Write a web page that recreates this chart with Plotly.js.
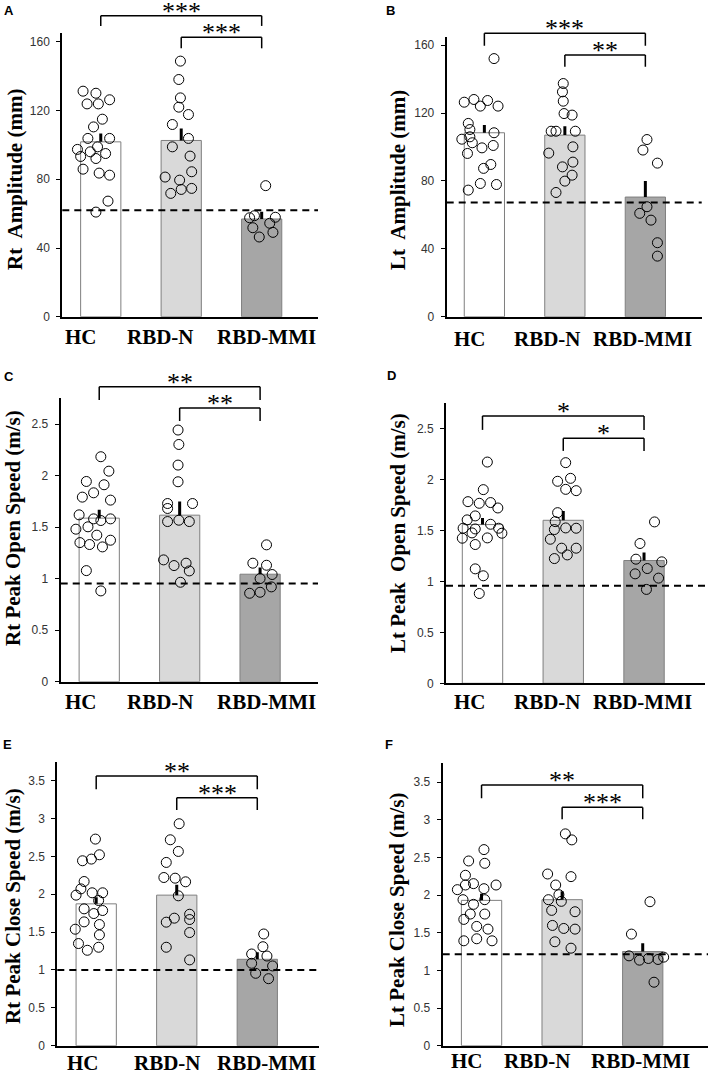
<!DOCTYPE html>
<html><head><meta charset="utf-8">
<script src="https://cdn.plot.ly/plotly-3.0.1.min.js"></script>
<style>html,body{margin:0;padding:0;background:#fff}</style>
</head><body><div id="chart" style="width:709px;height:1076px"></div>
<script>
const groups = ['HC', 'RBD-N', 'RBD-MMI'];

// Panel A: Rt Amplitude (mm)
const A_HC = [131.3,130.1,123.9,123.9,126.3,115.0,110.5,103.8,103.8,98.9,97.4,96.0,93.3,92.1,95.0,85.9,83.6,82.4,67.3,60.9];
const A_HC_j = [-0.22,-0.06,-0.17,-0.03,0.11,0.02,-0.09,-0.16,0.11,-0.04,-0.29,-0.13,-0.25,-0.06,0.06,-0.22,-0.02,0.11,0.09,-0.06];
const A_N = [148.8,138.1,127.4,122.0,117.7,111.9,103.8,98.9,93.5,81.3,79.5,84.4,71.8,74.1,74.7];
const A_N_j = [-0.01,-0.03,-0.01,-0.03,0.09,-0.11,0.09,-0.11,0.11,-0.2,-0.02,0.13,-0.13,0.0,0.13];
const A_M = [76.3,57.6,58.8,57.9,51.8,54.4,49.1,46.4];
const A_M_j = [0.05,-0.15,-0.09,0.17,-0.11,0.1,0.14,-0.03];
const A_mean = [101.8,102.6,56.9];
const A_sem = [4.9,7.0,4.2];
const A_cut = 62;
const A_stars = ['***','***'];

// Panel B: Lt Amplitude (mm)
const B_HC = [152.1,126.4,128.0,127.4,124.1,124.1,113.9,110.3,104.6,106.0,102.5,108.4,100.9,99.5,96.2,89.7,87.4,78.5,77.9,74.6];
const B_HC_j = [0.12,-0.25,-0.13,0.04,-0.05,0.17,-0.2,-0.18,-0.28,-0.18,-0.15,0.12,0.11,-0.03,-0.21,0.08,-0.01,-0.05,0.15,-0.2];
const B_N = [137.4,132.5,127.0,119.7,118.8,109.3,109.3,109.3,100.1,96.4,91.1,88.3,83.4,79.9,73.2];
const B_N_j = [-0.02,-0.03,-0.02,-0.01,0.09,-0.17,-0.11,0.13,0.1,-0.2,0.1,-0.03,0.09,0.0,-0.11];
const B_M = [104.4,98.2,90.5,60.9,64.8,56.9,43.6,35.7];
const B_M_j = [0.02,-0.03,0.15,-0.07,0.02,0.07,0.15,0.15];
const B_mean = [108.4,107.0,70.5];
const B_sem = [4.5,5.3,9.4];
const B_cut = 67.3;
const B_stars = ['***','**'];

// Panel C: Rt Peak Open Speed (m/s)
const C_HC = [2.183,2.043,1.943,1.911,1.833,1.791,1.762,1.619,1.580,1.564,1.580,1.503,1.480,1.422,1.350,1.331,1.373,1.308,1.078,0.881];
const C_HC_j = [0.02,0.12,-0.16,0.06,-0.07,-0.21,0.14,-0.25,-0.07,0.02,0.14,-0.14,-0.29,-0.03,-0.24,-0.12,0.14,0.04,-0.16,0.02];
const C_N = [2.442,2.302,2.102,1.940,1.729,1.681,1.729,1.554,1.567,1.554,1.182,1.127,1.150,1.075,0.965];
const C_N_j = [-0.02,-0.01,-0.02,-0.02,-0.15,-0.15,0.16,-0.15,-0.01,0.12,-0.2,-0.07,0.08,0.12,0.01];
const C_M = [1.328,1.150,1.130,1.040,1.001,0.920,0.858,0.868];
const C_M_j = [0.08,-0.09,0.08,0.15,0.0,0.14,-0.13,0.0];
const C_mean = [1.587,1.616,1.043];
const C_sem = [0.081,0.133,0.064];
const C_cut = 0.952;
const C_stars = ['**','**'];

// Panel D: Lt Peak Open Speed (m/s)
const D_HC = [2.173,1.902,1.784,1.768,1.775,1.722,1.644,1.605,1.562,1.516,1.523,1.523,1.477,1.474,1.425,1.428,1.363,1.124,1.056,0.882];
const D_HC_j = [0.06,0.01,-0.18,-0.04,0.1,0.19,-0.09,-0.19,0.1,-0.09,-0.24,0.2,-0.13,0.24,-0.25,0.06,-0.09,-0.09,0.01,-0.04];
const D_N = [2.167,1.984,2.013,1.905,1.892,1.676,1.588,1.510,1.526,1.523,1.415,1.327,1.327,1.261,1.225];
const D_N_j = [0.03,-0.07,0.09,0.03,0.16,-0.07,-0.1,-0.11,0.03,0.16,-0.16,-0.02,0.16,0.05,-0.11];
const D_M = [1.585,1.373,1.219,1.127,1.193,1.075,1.033,0.922];
const D_M_j = [0.13,-0.05,-0.1,0.04,0.22,-0.11,0.18,0.03];
const D_mean = [1.559,1.601,1.206];
const D_sem = [0.065,0.092,0.078];
const D_cut = 0.958;
const D_stars = ['*','*'];

// Panel E: Rt Peak Close Speed (m/s)
const E_HC = [2.728,2.442,2.464,2.521,2.168,2.071,1.988,2.019,2.019,1.917,1.807,1.745,1.785,1.635,1.600,1.538,1.463,1.349,1.300,1.260];
const E_HC_j = [-0.01,-0.17,-0.06,0.04,-0.15,-0.19,-0.25,-0.05,0.08,0.03,-0.15,-0.03,0.08,-0.15,0.04,-0.26,0.04,-0.22,0.03,-0.11];
const E_N = [2.931,2.719,2.565,2.420,2.221,2.212,2.164,1.979,1.736,1.666,1.684,1.631,1.494,1.300,1.133];
const E_N_j = [0.03,-0.08,0.02,-0.13,-0.16,-0.02,0.11,0.02,0.16,0.16,-0.03,-0.13,0.16,-0.13,0.16];
const E_M = [1.475,1.307,1.211,1.184,1.088,1.053,0.956,0.885];
const E_M_j = [0.08,0.07,-0.07,0.12,-0.07,0.19,-0.02,0.14];
const E_mean = [1.873,1.988,1.141];
const E_sem = [0.088,0.136,0.093];
const E_cut = 1.0;
const E_stars = ['**','***'];

// Panel F: Lt Peak Close Speed (m/s)
const F_HC = [2.604,2.453,2.422,2.263,2.134,2.152,2.134,2.072,2.085,1.939,1.939,1.877,1.748,1.748,1.677,1.584,1.548,1.393,1.420,1.393];
const F_HC_j = [0.03,-0.16,0.04,-0.2,-0.2,-0.1,0.18,-0.3,0.03,-0.23,0.04,-0.1,-0.14,0.04,-0.22,-0.06,0.08,-0.22,-0.06,0.13];
const F_N = [2.813,2.733,2.280,2.134,2.245,1.939,1.917,2.005,1.797,1.779,1.597,1.557,1.548,1.380,1.295];
const F_N_j = [0.04,0.12,-0.18,-0.08,0.11,-0.17,-0.01,-0.04,-0.13,0.16,-0.12,0.02,0.16,-0.09,0.11];
const F_M = [1.912,1.482,1.193,1.158,1.176,1.136,1.145,0.843];
const F_M_j = [0.09,-0.14,-0.17,0.07,0.26,-0.04,0.19,0.14];
const F_mean = [1.930,1.939,1.251];
const F_sem = [0.089,0.111,0.111];
const F_cut = 1.216;
const F_stars = ['**','***'];

const W = 709, H = 1076;
// layout geometry per panel (pixels): axis box, ranges, title/letter/label positions, bracket heights (fraction of axis height)
const panels = [
  {letter:'A', title:'Rt\u00a0 Amplitude (mm)', pts:[[A_HC,A_HC_j],[A_N,A_N_j],[A_M,A_M_j]], mean:A_mean, sem:A_sem, cut:A_cut, stars:A_stars,
   dx:[62.3,318], dy:[33.3,316.7], xr:[-0.478,2.70], yr:[0,165], dtick:40, tx:15, ty:180, lx:9, ly:11, br:[[1.062,1.026],[0.986,0.947]],
   labX:[81,160,266], labY:337},
  {letter:'B', title:'Lt\u00a0 Amplitude (mm)', pts:[[B_HC,B_HC_j],[B_N,B_N_j],[B_M,B_M_j]], mean:B_mean, sem:B_sem, cut:B_cut, stars:B_stars,
   dx:[446.7,701.7], dy:[36.7,316.7], xr:[-0.468,2.70], yr:[0,165], dtick:40, tx:398, ty:180, lx:390, ly:11, br:[[1.012,0.968],[0.935,0.893]],
   labX:[470,547,642], labY:339},
  {letter:'C', title:'Rt Peak Open Speed (m/s)', pts:[[C_HC,C_HC_j],[C_N,C_N_j],[C_M,C_M_j]], mean:C_mean, sem:C_sem, cut:C_cut, stars:C_stars,
   dx:[60.7,318], dy:[398.3,681.7], xr:[-0.479,2.72], yr:[0,2.75], dtick:0.5, tx:13, ty:528, lx:9, ly:376, br:[[1.041,0.994],[0.966,0.92]],
   labX:[81,160,266], labY:702},
  {letter:'D', title:'Lt Peak\u00a0 Open Speed (m/s)', pts:[[D_HC,D_HC_j],[D_N,D_N_j],[D_M,D_M_j]], mean:D_mean, sem:D_sem, cut:D_cut, stars:D_stars,
   dx:[446,705], dy:[403.3,683.3], xr:[-0.452,2.755], yr:[0,2.75], dtick:0.5, tx:398, ty:533, lx:391, ly:375, br:[[0.955,0.905],[0.875,0.83]],
   labX:[470,547,642], labY:702},
  {letter:'E', title:'Rt Peak Close Speed (m/s)', pts:[[E_HC,E_HC_j],[E_N,E_N_j],[E_M,E_M_j]], mean:E_mean, sem:E_sem, cut:E_cut, stars:E_stars,
   dx:[57.3,319.3], dy:[761.7,1045.7], xr:[-0.483,2.77], yr:[0,3.75], dtick:0.5, tx:13, ty:906, lx:7, ly:744, br:[[0.95,0.903],[0.873,0.83]],
   labX:[83,167,266], labY:1063},
  {letter:'F', title:'Lt Peak Close Speed (m/s)', pts:[[F_HC,F_HC_j],[F_N,F_N_j],[F_M,F_M_j]], mean:F_mean, sem:F_sem, cut:F_cut, stars:F_stars,
   dx:[442.7,708], dy:[763.3,1045.7], xr:[-0.482,2.81], yr:[0,3.75], dtick:0.5, tx:397, ty:910, lx:389, ly:744, br:[[0.923,0.876],[0.844,0.802]],
   labX:[467,537,640], labY:1061}
];

const barFill = ['#ffffff', '#d9d9d9', '#a6a6a6'];
const traces = [];
const layout = {
  width: W, height: H, margin: {l:0, r:0, t:0, b:0},
  paper_bgcolor: '#fff', plot_bgcolor: 'rgba(0,0,0,0)', showlegend: false,
  shapes: [], annotations: []
};
const serif = 'Liberation Serif, Times New Roman, serif';
const sans = 'Liberation Sans, Arial, sans-serif';

panels.forEach((p, i) => {
  const n = i + 1;
  const xid = n === 1 ? 'x' : 'x' + n;
  const yid = n === 1 ? 'y' : 'y' + n;
  const xk = n === 1 ? 'xaxis' : 'xaxis' + n;
  const yk = n === 1 ? 'yaxis' : 'yaxis' + n;
  const idx = groups.map((g, k) => k);
  traces.push({
    type: 'bar', x: idx, y: p.mean, width: 0.5, xaxis: xid, yaxis: yid,
    marker: {color: barFill, line: {color: '#7f7f7f', width: 1}},
    error_y: {type: 'data', symmetric: false, array: p.sem, arrayminus: [0,0,0], color: '#000', thickness: 3, width: 0},
    hoverinfo: 'skip'
  });
  p.pts.forEach((pair, k) => {
    traces.push({
      type: 'scatter', mode: 'markers', xaxis: xid, yaxis: yid,
      x: pair[1].map(j => k + j), y: pair[0], cliponaxis: false,
      marker: {symbol: 'circle', size: 10, color: 'rgba(0,0,0,0)', line: {color: '#000', width: 1}},
      hoverinfo: 'skip'
    });
  });
  layout[xk] = {
    domain: [p.dx[0]/W, p.dx[1]/W], range: p.xr, anchor: yid, automargin: false,
    showline: true, linecolor: '#000', linewidth: 2, ticks: '', showgrid: false, zeroline: false,
    showticklabels: false, fixedrange: true
  };
  layout[yk] = {
    domain: [1 - p.dy[1]/H, 1 - p.dy[0]/H], range: p.yr, anchor: xid, automargin: false,
    showline: true, linecolor: '#000', linewidth: 2, ticks: 'outside', ticklen: 4, tickwidth: 1, tickcolor: '#000',
    dtick: p.dtick, tick0: 0, showgrid: false, zeroline: false, ticklabelstandoff: 4,
    tickfont: {family: sans, size: 12, color: '#333'}, fixedrange: true
  };
  // group labels under the axis
  groups.forEach((g, k) => {
    layout.annotations.push({xref: 'paper', yref: 'paper', x: p.labX[k] / W, y: 1 - p.labY / H,
      xanchor: 'center', yanchor: 'middle', showarrow: false, text: '<b>' + g + '</b>',
      font: {family: serif, size: 21, color: '#000'}});
  });
  // dashed reference line
  layout.shapes.push({type: 'line', xref: xid + ' domain', yref: yid, x0: 0, x1: 1, y0: p.cut, y1: p.cut,
    line: {color: '#000', width: 2, dash: '7px,5px'}});
  // significance brackets
  const pairs = [[0, 2], [1, 2]];
  pairs.forEach((pr, b) => {
    const top = p.br[b][0], bot = p.br[b][1];
    const lw = {color: '#000', width: 1.5};
    layout.shapes.push({type: 'line', xref: xid, yref: yid + ' domain', x0: pr[0], x1: pr[1], y0: top, y1: top, line: lw});
    layout.shapes.push({type: 'line', xref: xid, yref: yid + ' domain', x0: pr[0], x1: pr[0], y0: top, y1: bot, line: lw});
    layout.shapes.push({type: 'line', xref: xid, yref: yid + ' domain', x0: pr[1], x1: pr[1], y0: top, y1: bot, line: lw});
    layout.annotations.push({xref: xid, yref: yid + ' domain', x: (pr[0] + pr[1]) / 2, y: top,
      yanchor: 'bottom', xanchor: 'center', yshift: -12, showarrow: false, text: p.stars[b],
      font: {family: serif, size: 26, color: '#000'}});
  });
  // y-axis title
  layout.annotations.push({xref: 'paper', yref: 'paper', x: p.tx / W, y: 1 - p.ty / H, xanchor: 'center', yanchor: 'middle',
    textangle: -90, showarrow: false, text: '<b>' + p.title + '</b>', font: {family: serif, size: 21, color: '#000'}});
  // panel letter
  layout.annotations.push({xref: 'paper', yref: 'paper', x: p.lx / W, y: 1 - p.ly / H, xanchor: 'center', yanchor: 'middle',
    showarrow: false, text: '<b>' + p.letter + '</b>', font: {family: sans, size: 13, color: '#000'}});
});

Plotly.newPlot('chart', traces, layout, {displayModeBar: false, staticPlot: true});
</script></body></html>
